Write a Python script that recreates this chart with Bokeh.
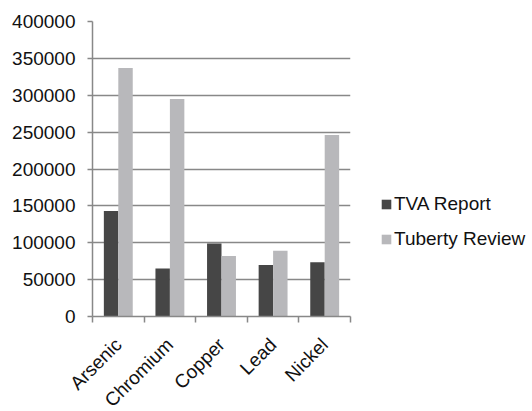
import math
from bokeh.plotting import figure
from bokeh.models import ColumnDataSource, FixedTicker, Legend, LegendItem, Range1d
from bokeh.transform import dodge
from bokeh.embed import file_html
from bokeh.resources import INLINE

categories = ["Arsenic", "Chromium", "Copper", "Lead", "Nickel"]
tva_report = [143000, 65000, 99000, 70000, 73500]
tuberty_review = [337000, 295000, 82000, 89000, 246000]
y_ticks = [0, 50000, 100000, 150000, 200000, 250000, 300000, 350000, 400000]

xs = [i + 0.5 for i in range(len(categories))]
src = ColumnDataSource(dict(x=xs, tva=tva_report, tub=tuberty_review))

p = figure(frame_width=258, frame_height=295, output_backend="svg", toolbar_location=None,
           x_range=Range1d(0, len(categories)), y_range=Range1d(0, 400000))
p.min_border_left = 92
p.min_border_top = 21
p.min_border_right = 0
p.min_border_bottom = 80
p.outline_line_color = None
p.background_fill_color = "white"
p.border_fill_color = "white"

w = 0.28
r1 = p.vbar(x=dodge("x", -w / 2, range=p.x_range), top="tva", width=w, source=src,
            fill_color="#464646", line_color=None)
r2 = p.vbar(x=dodge("x", w / 2, range=p.x_range), top="tub", width=w, source=src,
            fill_color="#b8b8bb", line_color=None)

# axes
p.xaxis.ticker = FixedTicker(ticks=xs, minor_ticks=list(range(len(categories) + 1)))
p.xaxis.major_label_overrides = {x: c for x, c in zip(xs, categories)}
p.xaxis.major_label_orientation = math.pi / 4
p.xaxis.major_tick_line_color = None
p.xaxis.minor_tick_line_color = "#888888"
p.xaxis.minor_tick_out = 6
p.xaxis.minor_tick_in = 0
p.xaxis.minor_tick_line_width = 1.5
p.xaxis.axis_line_color = "#888888"
p.xaxis.axis_line_width = 1.5
p.xaxis.major_label_text_font = "Liberation Sans"
p.xaxis.major_label_text_font_size = "19px"
p.xaxis.major_label_text_color = "#111111"
p.xaxis.major_label_standoff = 19

p.yaxis.ticker = FixedTicker(ticks=y_ticks)
p.yaxis.formatter.use_scientific = False
p.yaxis.minor_tick_line_color = None
p.yaxis.major_tick_line_color = "#888888"
p.yaxis.major_tick_out = 5
p.yaxis.major_tick_in = 0
p.yaxis.major_tick_line_width = 1.5
p.yaxis.axis_line_color = "#888888"
p.yaxis.axis_line_width = 1.5
p.yaxis.major_label_text_font = "Liberation Sans"
p.yaxis.major_label_text_font_size = "19px"
p.yaxis.major_label_text_color = "#111111"
p.yaxis.major_label_standoff = 12

p.xgrid.grid_line_color = None
p.ygrid.ticker = FixedTicker(ticks=y_ticks)
p.ygrid.grid_line_color = "#888888"
p.ygrid.grid_line_width = 1.5

legend = Legend(items=[LegendItem(label="TVA Report", renderers=[r1]),
                       LegendItem(label="Tuberty Review", renderers=[r2])],
                location=(30, 66), orientation="vertical")
legend.label_text_font = "Liberation Sans"
legend.label_text_font_size = "19px"
legend.label_text_color = "#111111"
legend.glyph_width = 12
legend.glyph_height = 12
legend.label_standoff = 2
legend.spacing = 13
legend.border_line_color = None
legend.background_fill_alpha = 0
legend.padding = 0
legend.margin = 0
p.add_layout(legend, "right")

open("out.html", "w").write(file_html(p, INLINE))
